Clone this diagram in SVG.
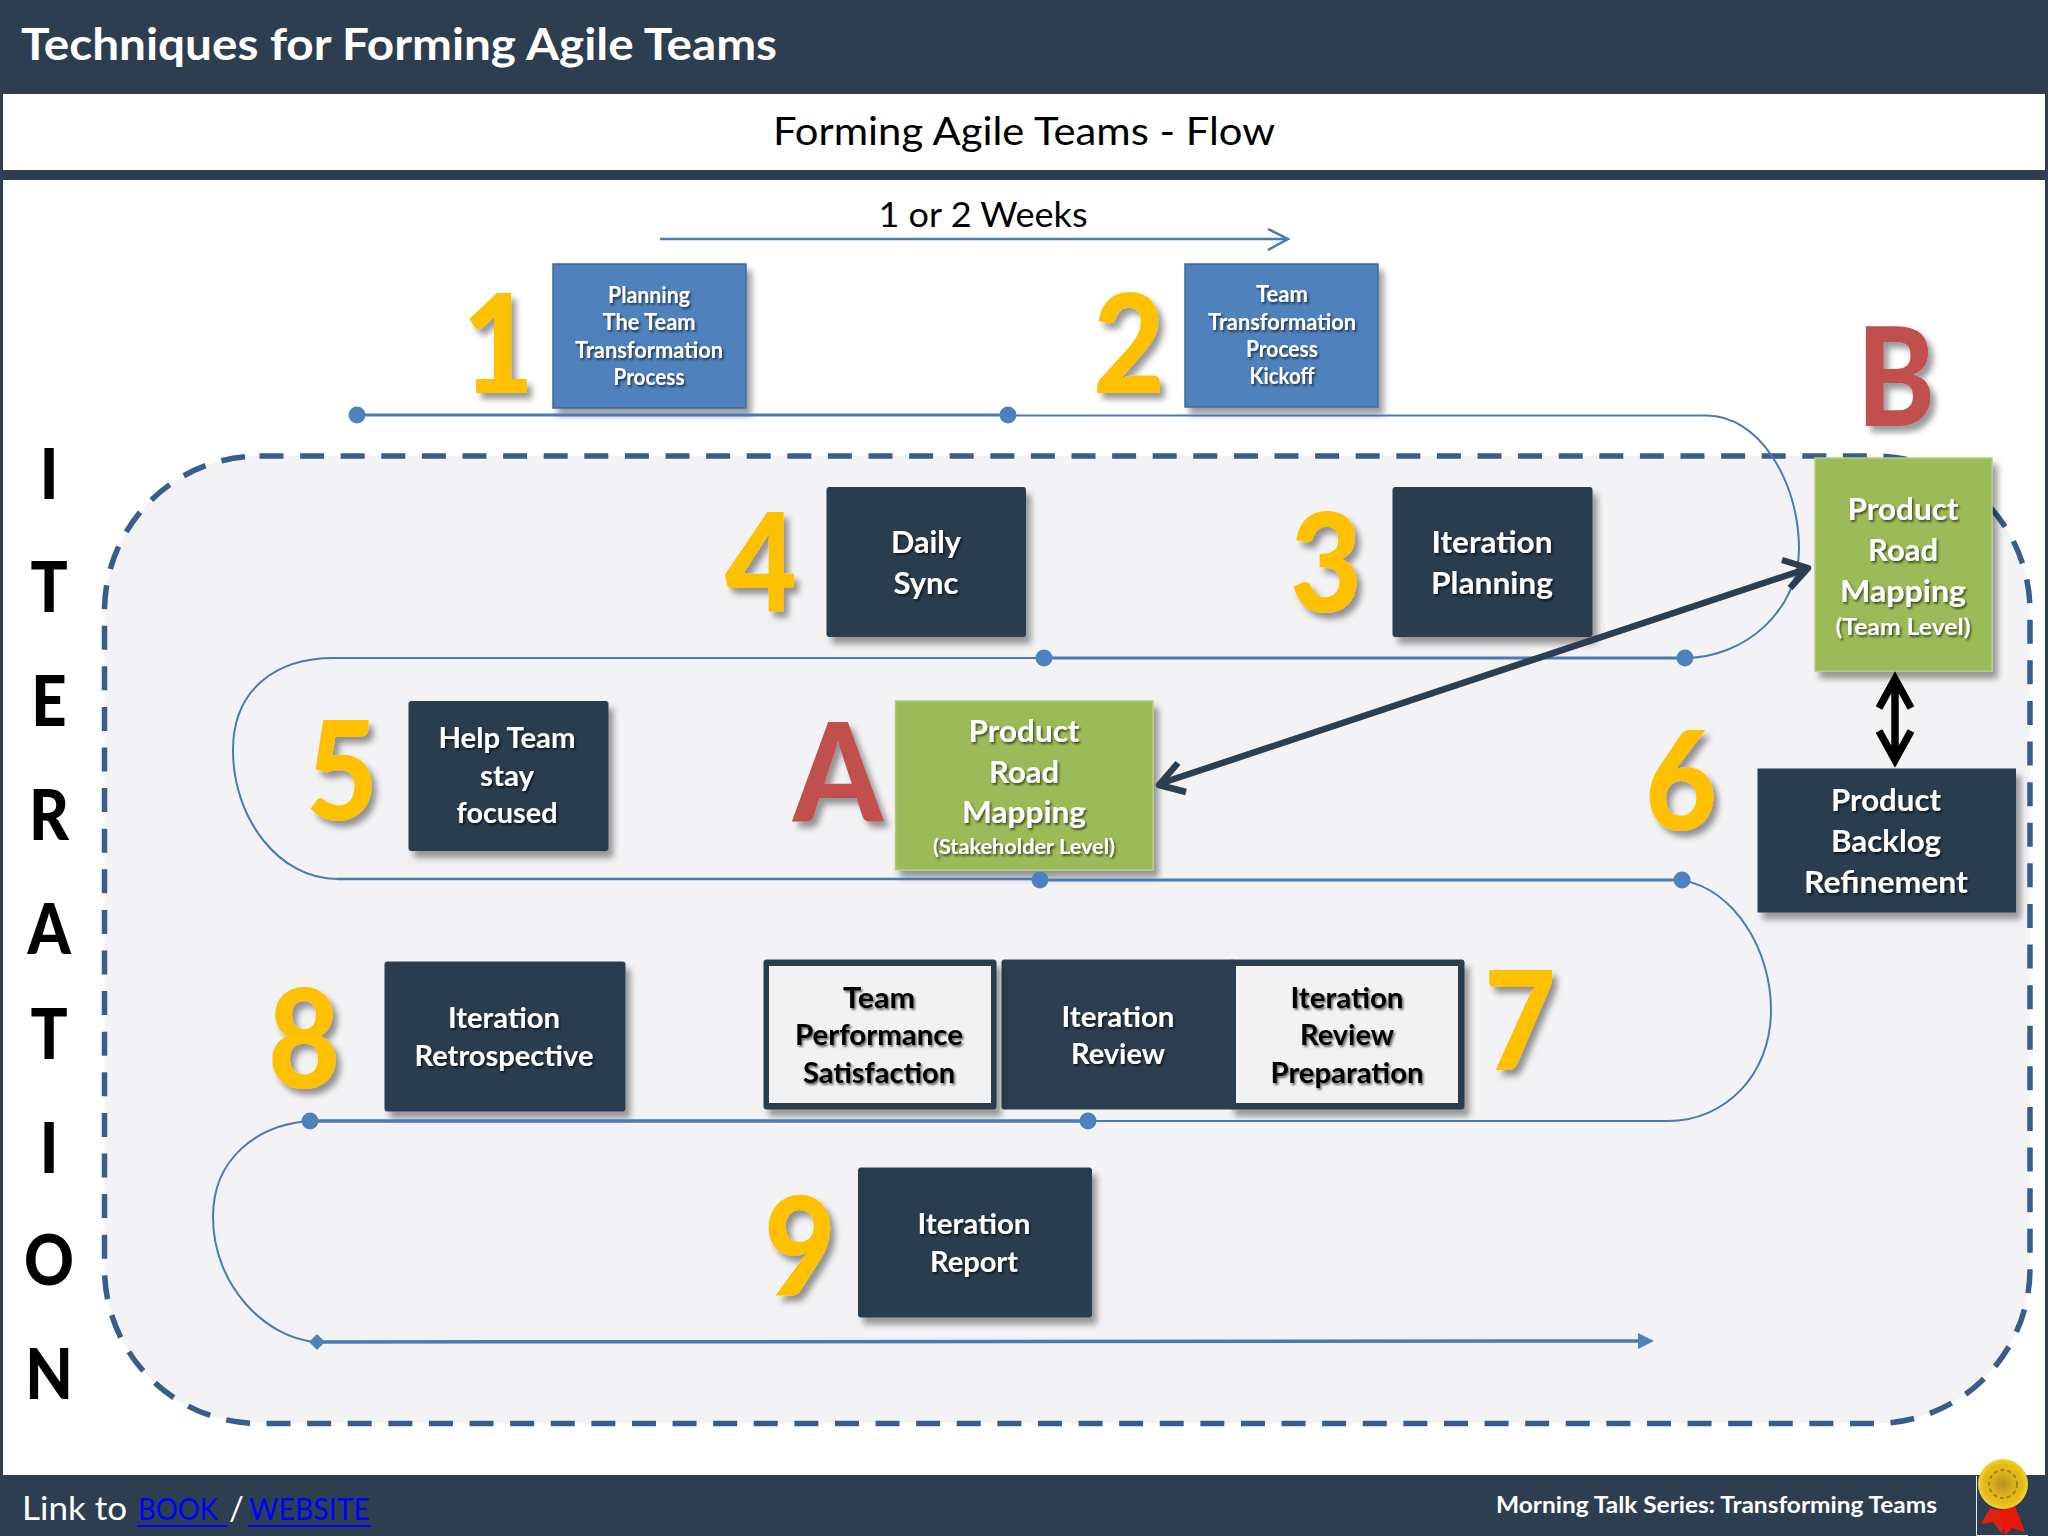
<svg xmlns="http://www.w3.org/2000/svg" width="2048" height="1536" viewBox="0 0 2048 1536">
<style>
text{font-family:"Lato","Noto Sans","Liberation Sans",sans-serif;text-anchor:middle}
.l{text-anchor:start}
.w{fill:#fff;font-weight:700}
.k{fill:#000;font-weight:700}
.num{fill:#ffc000;font-weight:900;font-size:138px}
.red{fill:#c0504d;font-weight:900;font-size:138px}
.let{fill:#000;font-weight:900;font-size:70px}
.dark{fill:#2c3e50;stroke:#2c3e50;stroke-width:1}
.blue{fill:#4f81bd;stroke:#41689a;stroke-width:1.5}
.green{fill:#9bbb59;stroke:#b5cc85;stroke-width:1.5}
.inner{fill:#f2f2f2}
.s{filter:url(#sh)}
.ts{filter:url(#tsh)}
.ns{filter:url(#nsh)}
.t21{font-size:22px}.t27{font-size:28px}.t30{font-size:31px}
.ln{fill:none;stroke:#4a7ab5}
.dot{fill:#4f81bd}
</style>
<defs>
<filter id="sh" x="-10%" y="-10%" width="125%" height="125%"><feDropShadow dx="5" dy="7" stdDeviation="3" flood-color="#000" flood-opacity=".38"/></filter>
<filter id="tsh" x="-10%" y="-20%" width="120%" height="140%"><feDropShadow dx="1.5" dy="2" stdDeviation="1" flood-color="#000" flood-opacity=".6"/></filter>
<filter id="nsh" x="-20%" y="-20%" width="150%" height="150%"><feDropShadow dx="5" dy="6" stdDeviation="3" flood-color="#000" flood-opacity=".4"/></filter>
<radialGradient id="gold" cx=".5" cy=".5" r=".5"><stop offset="0" stop-color="#b8901a"/><stop offset=".45" stop-color="#d9b21c"/><stop offset=".8" stop-color="#e6bc18"/><stop offset="1" stop-color="#f2d436"/></radialGradient>
</defs>
<g id="background">
<rect width="2048" height="1536" fill="#2c3e50"/>
<rect x="3" y="94" width="2042" height="76" fill="#fff"/>
<rect x="3" y="180" width="2042" height="1295" fill="#fff"/>
</g>
<text class="l w" x="21" y="60" font-size="44" textLength="756" lengthAdjust="spacingAndGlyphs">Techniques for Forming Agile Teams</text>
<text x="1024" y="145" font-size="39" fill="#000" textLength="502" lengthAdjust="spacingAndGlyphs">Forming Agile Teams - Flow</text>
<text x="983" y="227" font-size="35" fill="#000" textLength="209" lengthAdjust="spacingAndGlyphs">1 or 2 Weeks</text>
<rect id="iteration-frame" x="104.5" y="456" width="1925.5" height="967.5" rx="155" fill="#f3f3f5" stroke="#385d8a" stroke-width="5.5" stroke-dasharray="24 16.6"/>
<g id="iteration-label" class="let">
<text transform="translate(49 499) scale(.88 1)">I</text><text transform="translate(49 612) scale(.88 1)">T</text><text transform="translate(49 726) scale(.88 1)">E</text><text transform="translate(49 840) scale(.88 1)">R</text><text transform="translate(49 954) scale(.88 1)">A</text><text transform="translate(49 1059) scale(.88 1)">T</text><text transform="translate(49 1173) scale(.88 1)">I</text><text transform="translate(49 1285) scale(.88 1)">O</text><text transform="translate(49 1399) scale(.88 1)">N</text>
</g>
<g id="node-1">
<text class="num ns" x="498" y="393" textLength="72" lengthAdjust="spacingAndGlyphs">1</text>
<rect class="blue s" x="553" y="264" width="193" height="144"/>
<g class="w t21 ts"><text x="649" y="303" textLength="82" lengthAdjust="spacingAndGlyphs">Planning</text><text x="649" y="330" textLength="93" lengthAdjust="spacingAndGlyphs">The Team</text><text x="649" y="358" textLength="148" lengthAdjust="spacingAndGlyphs">Transformation</text><text x="649" y="385" textLength="71" lengthAdjust="spacingAndGlyphs">Process</text></g>
</g>
<g id="node-2">
<text class="num ns" x="1129" y="393" textLength="72" lengthAdjust="spacingAndGlyphs">2</text>
<rect class="blue s" x="1185" y="264" width="193" height="143"/>
<g class="w t21 ts"><text x="1282" y="302" textLength="52" lengthAdjust="spacingAndGlyphs">Team</text><text x="1282" y="330" textLength="148" lengthAdjust="spacingAndGlyphs">Transformation</text><text x="1282" y="357" textLength="72" lengthAdjust="spacingAndGlyphs">Process</text><text x="1282" y="384" textLength="65" lengthAdjust="spacingAndGlyphs">Kickoff</text></g>
</g>
<g id="node-3">
<text class="num ns" x="1326" y="612" textLength="72" lengthAdjust="spacingAndGlyphs">3</text>
<rect class="dark s" x="1393" y="487.500" width="199" height="149" rx="2"/>
<g class="w t30 ts"><text x="1492" y="553" textLength="121" lengthAdjust="spacingAndGlyphs">Iteration</text><text x="1492" y="594" textLength="122" lengthAdjust="spacingAndGlyphs">Planning</text></g>
</g>
<g id="node-4">
<text class="num ns" x="761" y="612" textLength="72" lengthAdjust="spacingAndGlyphs">4</text>
<rect class="dark s" x="827" y="487.500" width="198.500" height="149" rx="2"/>
<g class="w t30 ts"><text x="926" y="553" textLength="70" lengthAdjust="spacingAndGlyphs">Daily</text><text x="926" y="594" textLength="65" lengthAdjust="spacingAndGlyphs">Sync</text></g>
</g>
<g id="node-5">
<text class="num ns" x="342" y="820" textLength="72" lengthAdjust="spacingAndGlyphs">5</text>
<rect class="dark s" x="409" y="701.500" width="199" height="149" rx="2"/>
<g class="w t27 ts"><text x="507" y="748" textLength="137" lengthAdjust="spacingAndGlyphs">Help Team</text><text x="507" y="786" textLength="54" lengthAdjust="spacingAndGlyphs">stay</text><text x="507" y="823" textLength="101" lengthAdjust="spacingAndGlyphs">focused</text></g>
</g>
<g id="node-a">
<text class="red ns" x="838" y="822" textLength="90" lengthAdjust="spacingAndGlyphs">A</text>
<rect class="green s" x="895.500" y="701" width="257.500" height="169"/>
<g class="w t30 ts"><text x="1024" y="742" textLength="111" lengthAdjust="spacingAndGlyphs">Product</text><text x="1024" y="783" textLength="70" lengthAdjust="spacingAndGlyphs">Road</text><text x="1024" y="823" textLength="124" lengthAdjust="spacingAndGlyphs">Mapping</text><text x="1024" y="854" style="font-size:21px" textLength="182" lengthAdjust="spacingAndGlyphs">(Stakeholder Level)</text></g>
</g>
<g id="node-b">
<text class="red ns" x="1896" y="426" textLength="78" lengthAdjust="spacingAndGlyphs">B</text>
<rect class="green s" x="1815" y="458" width="177" height="213"/>
<g class="w t30 ts"><text x="1903" y="520" textLength="111" lengthAdjust="spacingAndGlyphs">Product</text><text x="1903" y="561" textLength="70" lengthAdjust="spacingAndGlyphs">Road</text><text x="1903" y="602" textLength="126" lengthAdjust="spacingAndGlyphs">Mapping</text><text x="1903" y="635" style="font-size:23px" textLength="135" lengthAdjust="spacingAndGlyphs">(Team Level)</text></g>
</g>
<g id="node-6">
<text class="num ns" x="1681" y="830" textLength="72" lengthAdjust="spacingAndGlyphs">6</text>
<rect class="dark s" x="1758" y="769" width="257.500" height="143"/>
<g class="w t30 ts"><text x="1886" y="811" textLength="110" lengthAdjust="spacingAndGlyphs">Product</text><text x="1886" y="852" textLength="110" lengthAdjust="spacingAndGlyphs">Backlog</text><text x="1886" y="893" textLength="164" lengthAdjust="spacingAndGlyphs">Refinement</text></g>
</g>
<g id="node-7-prep">
<text class="num ns" x="1520" y="1070" textLength="72" lengthAdjust="spacingAndGlyphs">7</text>
<rect class="dark s" x="1230" y="960" width="234" height="149" rx="2"/>
<rect class="inner" x="1236" y="966" width="222" height="137"/>
<g class="k t27 ts"><text x="1347" y="1008" textLength="113" lengthAdjust="spacingAndGlyphs">Iteration</text><text x="1347" y="1045" textLength="94" lengthAdjust="spacingAndGlyphs">Review</text><text x="1347" y="1083" textLength="153" lengthAdjust="spacingAndGlyphs">Preparation</text></g>
</g>
<g id="node-7-review">
<rect class="dark" x="1002" y="960" width="232" height="149" rx="2"/>
<g class="w t27 ts"><text x="1118" y="1027" textLength="113" lengthAdjust="spacingAndGlyphs">Iteration</text><text x="1118" y="1064" textLength="94" lengthAdjust="spacingAndGlyphs">Review</text></g>
</g>
<g id="node-7-satisfaction">
<rect class="dark s" x="764" y="960" width="232" height="149" rx="2"/>
<rect class="inner" x="769" y="966" width="222" height="137"/>
<g class="k t27 ts"><text x="879" y="1008" textLength="72" lengthAdjust="spacingAndGlyphs">Team</text><text x="879" y="1045" textLength="168" lengthAdjust="spacingAndGlyphs">Performance</text><text x="879" y="1083" textLength="152" lengthAdjust="spacingAndGlyphs">Satisfaction</text></g>
</g>
<g id="node-8">
<text class="num ns" x="304" y="1088" textLength="72" lengthAdjust="spacingAndGlyphs">8</text>
<rect class="dark s" x="385" y="962" width="240" height="149" rx="2"/>
<g class="w t27 ts"><text x="504" y="1028" textLength="112" lengthAdjust="spacingAndGlyphs">Iteration</text><text x="504" y="1066" textLength="179" lengthAdjust="spacingAndGlyphs">Retrospective</text></g>
</g>
<g id="node-9">
<text class="num ns" x="800" y="1295" textLength="72" lengthAdjust="spacingAndGlyphs">9</text>
<rect class="dark s" x="858.500" y="1168" width="233" height="149" rx="2"/>
<g class="w t27 ts"><text x="974" y="1234" textLength="113" lengthAdjust="spacingAndGlyphs">Iteration</text><text x="974" y="1272" textLength="88" lengthAdjust="spacingAndGlyphs">Report</text></g>
</g>
<g id="connectors">
<path class="ln" stroke-width="2.500" d="M660 239H1287M1268 229L1288 239L1268 250"/>
<path class="ln" stroke-width="3" d="M357 415H1008"/>
<path class="ln" stroke-width="2" d="M1008 415.500H1706C1758 415 1799 480 1799 549C1799 610 1745 658 1685 658"/>
<path class="ln" stroke-width="3" d="M1685 658H1044"/>
<path class="ln" stroke-width="2" d="M1044 658H334C275 658 233 690 233 750C233 820 280 879 337 879"/>
<path class="ln" stroke-width="2.500" d="M337 879H1040"/>
<path class="ln" stroke-width="3" d="M1040 880H1682"/>
<path class="ln" stroke-width="2" d="M1682 880C1735 890 1771 950 1771 1010C1771 1075 1725 1121 1668 1121H1088"/>
<path class="ln" stroke-width="3.500" d="M1088 1121H310"/>
<path class="ln" stroke-width="2" d="M310 1121C255 1125 213 1160 213 1217C213 1285 265 1338 316 1342"/>
<path class="ln" stroke-width="3.500" d="M316 1342L1640 1341"/>
<polygon class="dot" points="1638,1333 1654,1341 1638,1349"/>
<polygon class="dot" points="317,1334 325,1342 317,1350 309,1342"/>
<circle class="dot" cx="357" cy="415" r="8.500"/><circle class="dot" cx="1008" cy="415" r="8.500"/>
<circle class="dot" cx="1685" cy="658" r="8.500"/><circle class="dot" cx="1044" cy="658" r="8.500"/>
<circle class="dot" cx="1040" cy="880" r="8.500"/><circle class="dot" cx="1682" cy="880" r="8.500"/>
<circle class="dot" cx="1088" cy="1121" r="8.500"/><circle class="dot" cx="310" cy="1121" r="8.500"/>
<path fill="none" stroke="#2c3e50" stroke-width="6.500" stroke-linejoin="round" d="M1806 569L1162 783M1782 560L1808 568L1790 588M1178 763L1159 785L1186 792"/>
<path fill="none" stroke="#000" stroke-width="7.500" d="M1895 680V760M1879 708L1895 679L1911 708M1879 731L1895 760L1911 731"/>
</g>
<g id="footer">
<text class="l" x="22" y="1520" font-size="33" fill="#fff" textLength="105" lengthAdjust="spacingAndGlyphs">Link to</text>
<text class="l" x="138" y="1520" font-size="31" fill="#0000ff" textLength="80" lengthAdjust="spacingAndGlyphs">BOOK</text>
<text class="l" x="229" y="1520" font-size="33" fill="#fff">/</text>
<text class="l" x="249" y="1520" font-size="31" fill="#0000ff" textLength="121" lengthAdjust="spacingAndGlyphs">WEBSITE</text>
<path d="M137 1526H227M248 1526H371" stroke="#0000ff" stroke-width="2" fill="none"/>
<text class="l w" x="1496" y="1513" style="font-size:23px" textLength="441" lengthAdjust="spacingAndGlyphs">Morning Talk Series: Transforming Teams</text>
</g>
<g id="medal">
<path d="M1976.500 1476V1535.500H2028" fill="none" stroke="#e8ecef" stroke-width="1"/>
<polygon points="1990,1508 1981,1524 1993,1522 2002,1534 2007,1512" fill="#e02010"/>
<polygon points="2000,1510 2015,1506 2025,1532 2012,1528 2005,1535" fill="#e8180c"/>
<circle cx="2003" cy="1484" r="25" fill="url(#gold)"/>
<circle cx="2003" cy="1484" r="14" fill="none" stroke="#a8841a" stroke-width="2" stroke-dasharray="4 3"/>
</g>
</svg>
